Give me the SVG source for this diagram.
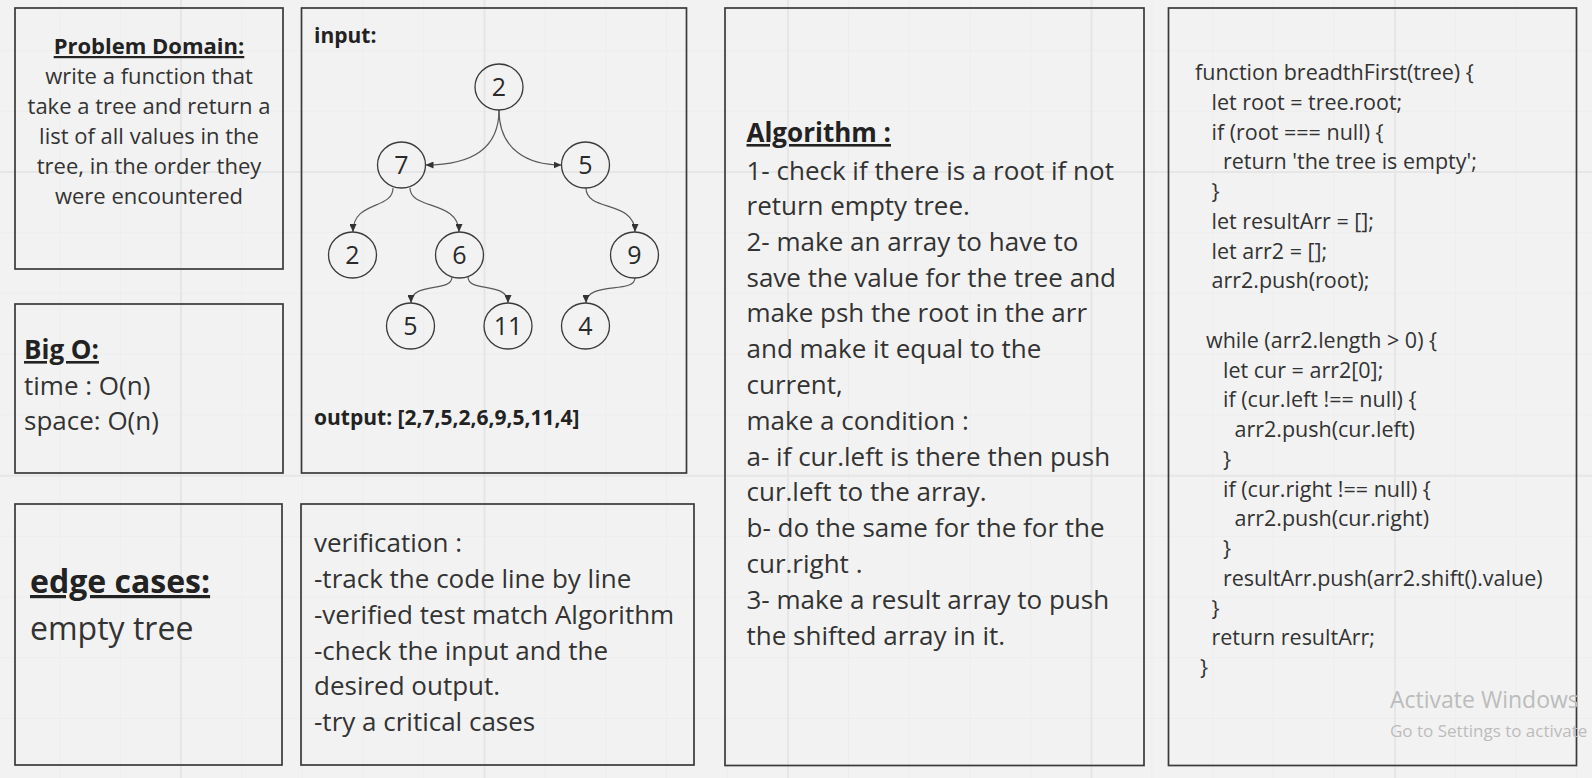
<svg xmlns="http://www.w3.org/2000/svg" width="1592" height="778" viewBox="0 0 1592 778">
<style>
.box{fill:none;stroke:#3a3a3a;stroke-width:1.7}
.circ{fill:none;stroke:#3a3a3a;stroke-width:1.3}
.t{font-family:"Open Sans","Noto Sans",sans-serif;fill:#333}
.b{font-weight:bold;fill:#222}
.u{text-decoration:underline}
.num{font-family:"Open Sans","Noto Sans",sans-serif;font-size:25px;fill:#2a2a2a;text-anchor:middle}
.edge{fill:none;stroke:#5a5a5a;stroke-width:1.2;marker-end:url(#arr)}
.gmin{stroke:#ededed;stroke-width:1}
.gmaj{stroke:#e6e6e6;stroke-width:2}
.wm{font-family:"Open Sans","Noto Sans",sans-serif;fill:#bcbcbc}
</style>
<defs>
<marker id="arr" markerUnits="userSpaceOnUse" markerWidth="9" markerHeight="7" refX="8" refY="3.5" orient="auto">
<path d="M0,0 L8,3.5 L0,7 z" fill="#333"/>
</marker>
</defs>
<rect width="1592" height="778" fill="#f2f2f2"/>
<g id="grid">
<g class="gmin">
<line x1="59.7" y1="0" x2="59.7" y2="778"/><line x1="120.4" y1="0" x2="120.4" y2="778"/><line x1="241.7" y1="0" x2="241.7" y2="778"/><line x1="302.4" y1="0" x2="302.4" y2="778"/><line x1="363.1" y1="0" x2="363.1" y2="778"/><line x1="423.8" y1="0" x2="423.8" y2="778"/><line x1="545.2" y1="0" x2="545.2" y2="778"/><line x1="605.9" y1="0" x2="605.9" y2="778"/><line x1="666.6" y1="0" x2="666.6" y2="778"/><line x1="727.3" y1="0" x2="727.3" y2="778"/><line x1="848.6" y1="0" x2="848.6" y2="778"/><line x1="909.3" y1="0" x2="909.3" y2="778"/><line x1="970" y1="0" x2="970" y2="778"/><line x1="1030.7" y1="0" x2="1030.7" y2="778"/><line x1="1152" y1="0" x2="1152" y2="778"/><line x1="1212.7" y1="0" x2="1212.7" y2="778"/><line x1="1273.4" y1="0" x2="1273.4" y2="778"/><line x1="1334.1" y1="0" x2="1334.1" y2="778"/><line x1="1455.4" y1="0" x2="1455.4" y2="778"/><line x1="1516.1" y1="0" x2="1516.1" y2="778"/><line x1="1576.8" y1="0" x2="1576.8" y2="778"/>
<line x1="0" y1="50.7" x2="1592" y2="50.7"/><line x1="0" y1="111.4" x2="1592" y2="111.4"/><line x1="0" y1="232.7" x2="1592" y2="232.7"/><line x1="0" y1="293.4" x2="1592" y2="293.4"/><line x1="0" y1="354.1" x2="1592" y2="354.1"/><line x1="0" y1="414.8" x2="1592" y2="414.8"/><line x1="0" y1="536.4" x2="1592" y2="536.4"/><line x1="0" y1="597.1" x2="1592" y2="597.1"/><line x1="0" y1="657.8" x2="1592" y2="657.8"/><line x1="0" y1="718.5" x2="1592" y2="718.5"/>
</g>
<g class="gmaj">
<line x1="181" y1="0" x2="181" y2="778"/><line x1="484.5" y1="0" x2="484.5" y2="778"/><line x1="788" y1="0" x2="788" y2="778"/><line x1="1091.5" y1="0" x2="1091.5" y2="778"/><line x1="1395" y1="0" x2="1395" y2="778"/>
<line x1="0" y1="172" x2="1592" y2="172"/><line x1="0" y1="475.7" x2="1592" y2="475.7"/>
</g>
</g>

<g id="problem-domain">
<rect class="box" x="15" y="8" width="268" height="261"/>
<text class="t b u" x="149" y="54" font-size="22" text-anchor="middle">Problem Domain:</text>
<g class="t" font-size="22" text-anchor="middle">
<text x="149" y="83.5">write a function that</text>
<text x="149" y="113.5">take a tree and return a</text>
<text x="149" y="143.5">list of all values in the</text>
<text x="149" y="173.5">tree, in the order they</text>
<text x="149" y="203.5">were encountered</text>
</g>
</g>

<g id="big-o">
<rect class="box" x="15" y="304" width="268" height="169"/>
<text class="t b u" x="24" y="359" font-size="26">Big O:</text>
<text class="t" x="24" y="395" font-size="26">time : O(n)</text>
<text class="t" x="24" y="430" font-size="26">space: O(n)</text>
</g>

<g id="edge-cases">
<rect class="box" x="15" y="504" width="267" height="261"/>
<text class="t b u" x="30" y="593" font-size="32">edge cases:</text>
<text class="t" x="30" y="640" font-size="32">empty tree</text>
</g>

<g id="input-output">
<rect class="box" x="301.5" y="8" width="385" height="465"/>
<text class="t b" x="314" y="43" font-size="21">input:</text>
<text class="t b" x="314" y="425" font-size="21">output: [2,7,5,2,6,9,5,11,4]</text>
</g>

<g id="verification">
<rect class="box" x="301" y="504" width="393" height="261"/>
<g class="t" font-size="26">
<text x="314" y="552">verification :</text>
<text x="314" y="588">-track the code line by line</text>
<text x="314" y="623.5">-verified test match Algorithm</text>
<text x="314" y="659.5">-check the input and the</text>
<text x="314" y="695">desired output.</text>
<text x="314" y="731">-try a critical cases</text>
</g>
</g>

<g id="algorithm">
<rect class="box" x="725" y="8" width="419" height="757.5"/>
<text class="t b u" x="746.5" y="142" font-size="26">Algorithm :</text>
<g class="t" font-size="26">
<text x="746.5" y="180">1- check if there is a root if not</text>
<text x="746.5" y="215">return empty tree.</text>
<text x="746.5" y="250.5">2- make an array to have to</text>
<text x="746.5" y="286.5">save the value for the tree and</text>
<text x="746.5" y="322">make psh the root in the arr</text>
<text x="746.5" y="358">and make it equal to the</text>
<text x="746.5" y="393.5">current,</text>
<text x="746.5" y="430">make a condition :</text>
<text x="746.5" y="465.5">a- if cur.left is there then push</text>
<text x="746.5" y="501">cur.left to the array.</text>
<text x="746.5" y="537">b- do the same for the for the</text>
<text x="746.5" y="573">cur.right .</text>
<text x="746.5" y="608.5">3- make a result array to push</text>
<text x="746.5" y="645">the shifted array in it.</text>
</g>
</g>

<g id="code">
<rect class="box" x="1168.5" y="8" width="408" height="757.5"/>
<g class="t" font-size="21.5">
<text x="1195" y="80">function breadthFirst(tree) {</text>
<text x="1211.5" y="109.75">let root = tree.root;</text>
<text x="1211.5" y="139.5">if (root === null) {</text>
<text x="1223" y="169.25">return 'the tree is empty';</text>
<text x="1211.5" y="199">}</text>
<text x="1211.5" y="228.75">let resultArr = [];</text>
<text x="1211.5" y="258.5">let arr2 = [];</text>
<text x="1211.5" y="288.25">arr2.push(root);</text>
<text x="1206" y="347.75">while (arr2.length &gt; 0) {</text>
<text x="1223" y="377.5">let cur = arr2[0];</text>
<text x="1223" y="407.25">if (cur.left !== null) {</text>
<text x="1234.5" y="437">arr2.push(cur.left)</text>
<text x="1223" y="466.75">}</text>
<text x="1223" y="496.5">if (cur.right !== null) {</text>
<text x="1234.5" y="526.25">arr2.push(cur.right)</text>
<text x="1223" y="556">}</text>
<text x="1223" y="585.75">resultArr.push(arr2.shift().value)</text>
<text x="1211.5" y="615.5">}</text>
<text x="1211.5" y="645.25">return resultArr;</text>
<text x="1200" y="675">}</text>
</g>
</g>

<g id="tree-connectors">
<path class="edge" d="M499,110 C499,150 470,165 425.5,165"/>
<path class="edge" d="M499,110 C499,150 528,165 561.5,165"/>
<path class="edge" d="M393,188 C393,210 353,200 353,232"/>
<path class="edge" d="M410,188 C410,210 459,200 459,232"/>
<path class="edge" d="M586,188 C586,212 635,200 635,232"/>
<path class="edge" d="M452,277 C452,293 411,281 411,303"/>
<path class="edge" d="M468,277 C468,293 508,281 508,303"/>
<path class="edge" d="M635,278 C635,294 586,281 586,303"/>
</g>

<g id="n-root"><ellipse class="circ" cx="499" cy="87" rx="24" ry="23"/><text class="num" x="499" y="96">2</text></g>
<g id="n-7"><ellipse class="circ" cx="401.5" cy="165" rx="24" ry="23"/><text class="num" x="401.5" y="174">7</text></g>
<g id="n-5"><ellipse class="circ" cx="585.5" cy="165" rx="24" ry="23"/><text class="num" x="585.5" y="174">5</text></g>
<g id="n-2b"><ellipse class="circ" cx="352.5" cy="255" rx="24" ry="23"/><text class="num" x="352.5" y="264">2</text></g>
<g id="n-6"><ellipse class="circ" cx="459.5" cy="255" rx="24" ry="23"/><text class="num" x="459.5" y="264">6</text></g>
<g id="n-9"><ellipse class="circ" cx="634.5" cy="255" rx="24" ry="23"/><text class="num" x="634.5" y="264">9</text></g>
<g id="n-5b"><ellipse class="circ" cx="410.5" cy="326" rx="24" ry="23"/><text class="num" x="410.5" y="335">5</text></g>
<g id="n-11"><ellipse class="circ" cx="508" cy="326" rx="24" ry="23"/><text class="num" x="508" y="335">11</text></g>
<g id="n-4"><ellipse class="circ" cx="585.5" cy="326" rx="24" ry="23"/><text class="num" x="585.5" y="335">4</text></g>

<g id="watermark">
<text class="wm" x="1390" y="708" font-size="23">Activate Windows</text>
<text class="wm" x="1390" y="737" font-size="17">Go to Settings to activate</text>
</g>
</svg>
